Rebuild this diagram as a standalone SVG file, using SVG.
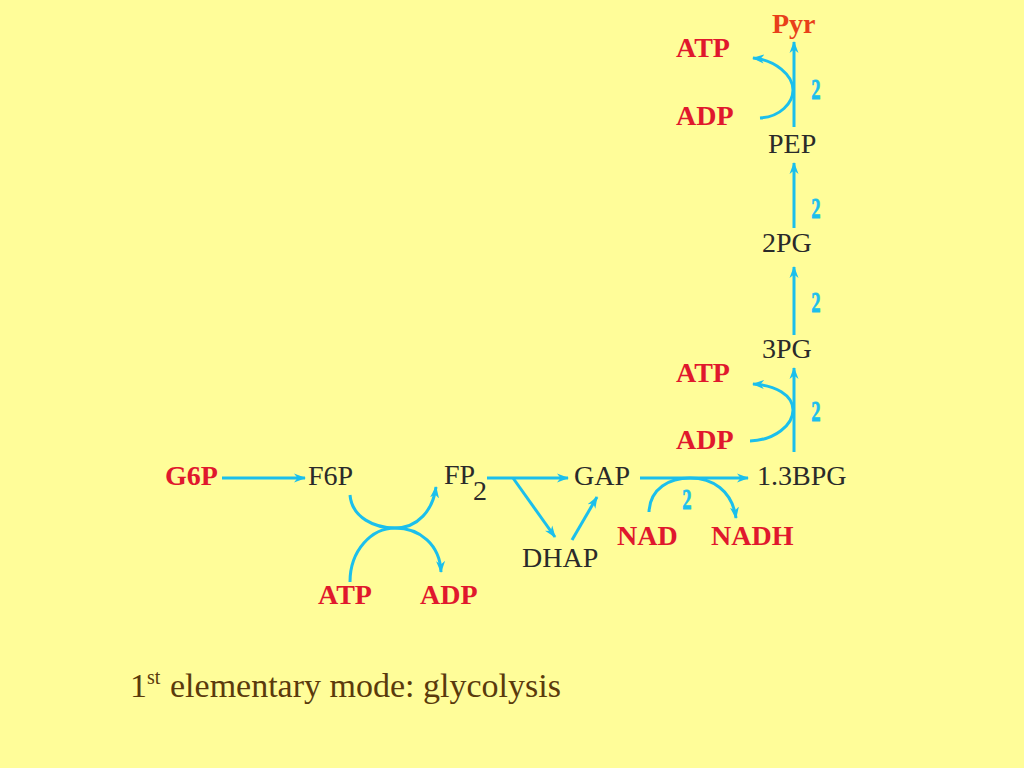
<svg xmlns="http://www.w3.org/2000/svg" width="1024" height="768" viewBox="0 0 1024 768">
<defs>
<marker id="ah" viewBox="0 0 12 10" refX="11" refY="5" markerWidth="12" markerHeight="10" markerUnits="userSpaceOnUse" orient="auto">
<path d="M0,0.5 L12,5 L0,9.5 L3.5,5 Z" fill="#1BBFEC"/>
</marker>
<style>
.c{fill:none;stroke:#1BBFEC;stroke-width:3;marker-end:url(#ah)}
.m{font-family:"Liberation Serif","Times New Roman",serif;font-size:28px;fill:#2a2a2a}
.r{font-family:"Liberation Serif","Times New Roman",serif;font-size:28px;font-weight:bold;fill:#E0182D}
.n{font-family:"Liberation Serif","Times New Roman",serif;font-size:30px;font-weight:bold;fill:#1BBFEC;stroke:#1BBFEC;stroke-width:0.8px;text-anchor:middle}
.cap{font-family:"Liberation Serif","Times New Roman",serif;font-size:34px;fill:#5A3A0C}
</style>
</defs>
<rect width="1024" height="768" fill="#FFFD99"/>
<g id="connectors">
<path class="c" d="M222,478 H305"/>
<path class="c" d="M487,478 H568"/>
<path class="c" d="M640,478 H748"/>
<path class="c" d="M513,478 L555,537"/>
<path class="c" d="M572,540 L597,497"/>
<path class="c" d="M649,512 C650,488 670,478 690,478 C712,478 732,490 736,518"/>
<path class="c" d="M350,495 C352,518 375,528 395,528 C418,528 433,510 436,487"/>
<path class="c" d="M350,582 C350,550 372,528 395,528 C420,528 440,545 441,572"/>
<path class="c" d="M794,452 V368"/>
<path class="c" d="M794,335 V267"/>
<path class="c" d="M794,228 V163"/>
<path class="c" d="M794,127 V42"/>
<path class="c" d="M750,441 C775,440 793,425 793,410 C793,395 775,385 753,384"/>
<path class="c" d="M760,118 C780,117 793,103 793,90 C793,75 775,60 753,58"/>
<text class="n" transform="translate(687,509) scale(0.62,1)">2</text>
<text class="n" transform="translate(816,99) scale(0.62,1)">2</text>
<text class="n" transform="translate(816,218) scale(0.62,1)">2</text>
<text class="n" transform="translate(816,312) scale(0.62,1)">2</text>
<text class="n" transform="translate(816,421) scale(0.62,1)">2</text>
</g>
<g id="Pyr"><text x="772" y="33" font-family="Liberation Serif, serif" font-size="28" font-weight="bold" fill="#E8401A">Pyr</text></g>
<g id="ATP2"><text class="r" x="676" y="57">ATP</text></g>
<g id="ADP2"><text class="r" x="676" y="125">ADP</text></g>
<g id="PEP"><text class="m" x="768" y="153">PEP</text></g>
<g id="PG2"><text class="m" x="762" y="252">2PG</text></g>
<g id="PG3"><text class="m" x="762" y="358">3PG</text></g>
<g id="ATP1"><text class="r" x="676" y="382">ATP</text></g>
<g id="ADP1"><text class="r" x="676" y="449">ADP</text></g>
<g id="BPG"><text class="m" x="757" y="485">1.3BPG</text></g>
<g id="G6P"><text class="r" x="165" y="485">G6P</text></g>
<g id="F6P"><text class="m" x="308" y="485">F6P</text></g>
<g id="FP2"><text class="m" x="444" y="484" font-size="26">FP</text><text class="m" x="473" y="500" font-size="24">2</text></g>
<g id="GAP"><text class="m" x="574" y="485">GAP</text></g>
<g id="DHAP"><text class="m" x="522" y="567">DHAP</text></g>
<g id="NAD"><text class="r" x="617" y="545">NAD</text></g>
<g id="NADH"><text class="r" x="711" y="545">NADH</text></g>
<g id="ATP0"><text class="r" x="318" y="604">ATP</text></g>
<g id="ADP0"><text class="r" x="420" y="604">ADP</text></g>
<g id="caption"><text class="cap" x="130" y="697">1<tspan font-size="20" dy="-13">st</tspan><tspan x="170" dy="13">elementary mode: glycolysis</tspan></text></g>
</svg>
